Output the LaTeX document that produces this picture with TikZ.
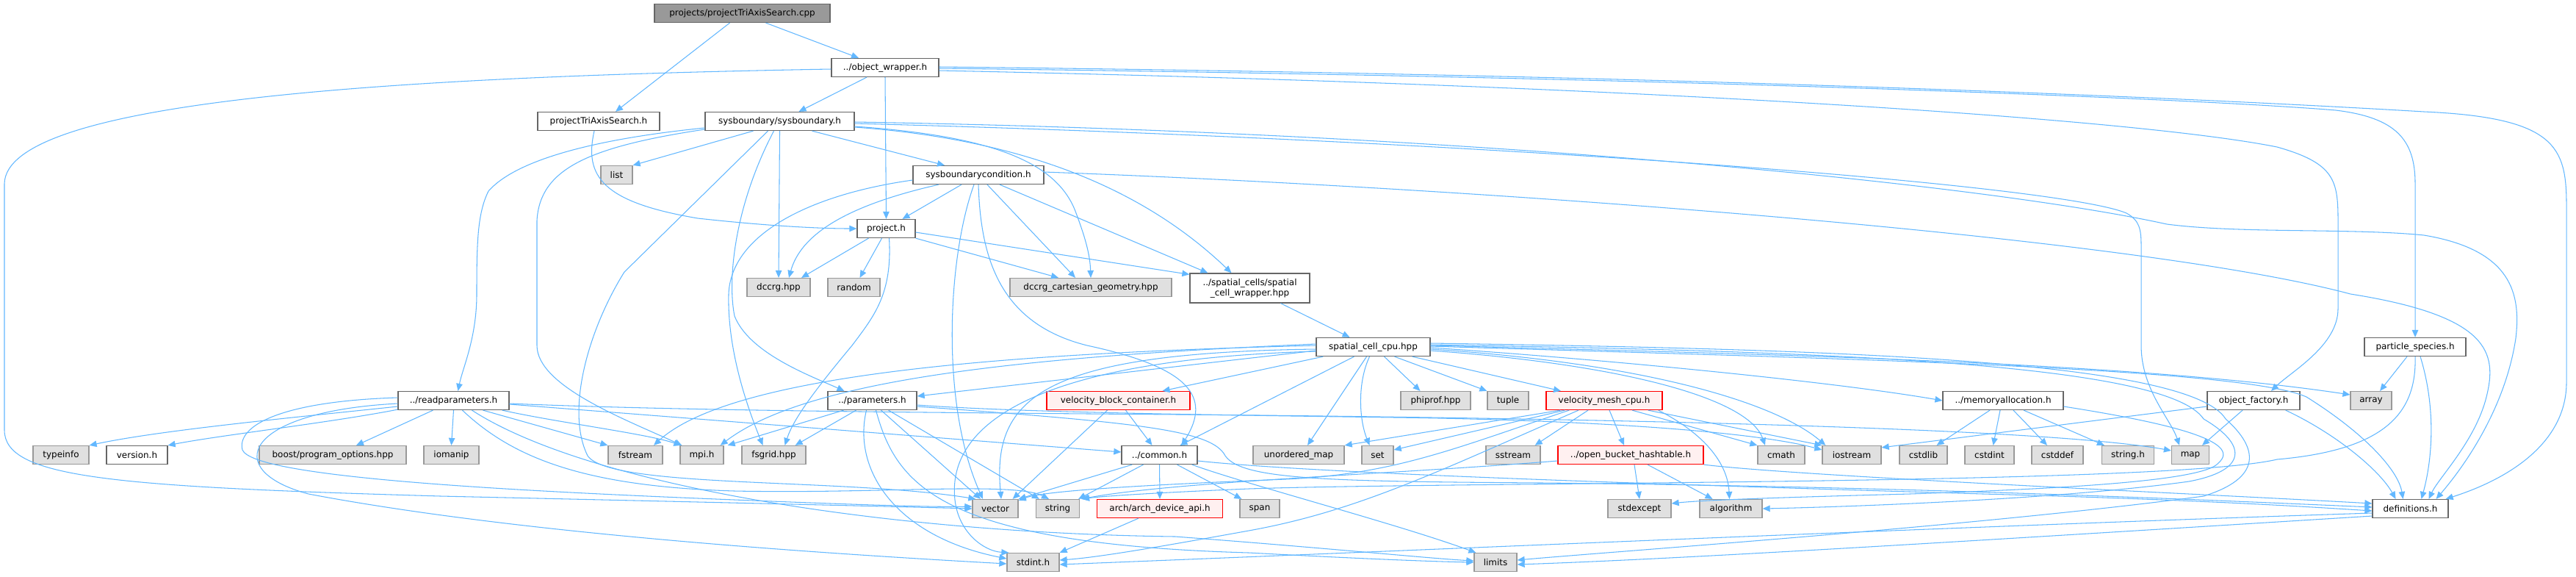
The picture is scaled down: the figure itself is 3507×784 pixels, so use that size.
\documentclass[tikz,border=0pt]{standalone}
\usepackage{fontspec}
\setmainfont{DejaVu Sans}
\usetikzlibrary{arrows.meta,calc}
\definecolor{edgec}{HTML}{63B8FF}
\definecolor{gfill}{HTML}{E0E0E0}
\definecolor{gborder}{HTML}{999999}
\definecolor{wborder}{HTML}{666666}
\definecolor{rfill}{HTML}{FFF0F0}
\definecolor{rootfill}{HTML}{999999}
\tikzset{
 base/.style={rectangle, inner sep=0pt, minimum height=2.5mm, line width=0.35pt, font=\fontsize{3.4pt}{3.9pt}\selectfont},
 gn/.style={base, draw=gborder, fill=gfill},
 wn/.style={base, draw=wborder, fill=white},
 rn/.style={base, draw=red, fill=rfill},
 rootn/.style={base, draw=wborder, fill=rootfill},
 conn/.style={draw=edgec, line width=0.3pt, -{Triangle[length=1mm,width=0.85mm]}},
}
\begin{document}
\begin{tikzpicture}[x=0.01cm,y=-0.01cm]
\fill[white] (0,0) rectangle (3507,784);
\useasboundingbox (0,0) rectangle (3507,784);
% nodes
\node[rootn, minimum width=23.9mm] (root) at (1010.5,18) {projects/projectTriAxisSearch.cpp};
\node[wn, minimum width=14.6mm] (ow) at (1205,92) {../object\_wrapper.h};
\node[wn, minimum width=16.6mm] (pts) at (815,165) {projectTriAxisSearch.h};
\node[wn, minimum width=20.3mm] (sb) at (1061.5,165) {sysboundary/sysboundary.h};
\node[gn, minimum width=4.3mm] (list) at (839.5,238) {list};
\node[wn, minimum width=17.8mm] (sbc) at (1332,238) {sysboundarycondition.h};
\node[wn, minimum width=7.9mm] (proj) at (1206.5,311) {project.h};
\node[gn, minimum width=8.6mm] (dccrg) at (1060,391) {dccrg.hpp};
\node[gn, minimum width=7.1mm] (random) at (1162.5,391) {random};
\node[gn, minimum width=22mm] (dcg) at (1485,391) {dccrg\_cartesian\_geometry.hpp};
\node[wn, minimum width=16.3mm, minimum height=4mm, align=center] (scw) at (1701.5,392) {../spatial\_cells/spatial\\\_cell\_wrapper.hpp};
\node[wn, minimum width=15.5mm] (scc) at (1869.5,472) {spatial\_cell\_cpu.hpp};
\node[wn, minimum width=13.8mm] (ps) at (3288,472) {particle\_species.h};
\node[wn, minimum width=15.1mm] (rp) at (617.5,545) {../readparameters.h};
\node[wn, minimum width=12.1mm] (par) at (1187.5,545) {../parameters.h};
\node[rn, minimum width=19.5mm] (vbc) at (1522.5,545) {velocity\_block\_container.h};
\node[gn, minimum width=9.5mm] (phiprof) at (1954.5,545) {phiprof.hpp};
\node[gn, minimum width=5.6mm] (tuple) at (2053,545) {tuple};
\node[rn, minimum width=15.8mm] (vmc) at (2184,545) {velocity\_mesh\_cpu.h};
\node[wn, minimum width=16.4mm] (mem) at (2727,545) {../memoryallocation.h};
\node[wn, minimum width=12.6mm] (of) at (3068,545) {object\_factory.h};
\node[gn, minimum width=5.6mm] (array) at (3228,545) {array};
\node[gn, minimum width=7.6mm] (typeinfo) at (83,619) {typeinfo};
\node[wn, minimum width=8.3mm] (version) at (186.5,619) {version.h};
\node[gn, minimum width=20mm] (boost) at (453,619) {boost/program\_options.hpp};
\node[gn, minimum width=7.5mm] (iomanip) at (614.5,619) {iomanip};
\node[gn, minimum width=7.4mm] (fstream) at (865,619) {fstream};
\node[gn, minimum width=5.9mm] (mpi) at (955.5,619) {mpi.h};
\node[gn, minimum width=8.7mm] (fsgrid) at (1053.5,619) {fsgrid.hpp};
\node[wn, minimum width=10.3mm] (common) at (1578.5,619) {../common.h};
\node[gn, minimum width=12.4mm] (umap) at (1768,619) {unordered\_map};
\node[gn, minimum width=4.3mm] (set) at (1875.5,619) {set};
\node[gn, minimum width=7.4mm] (sstream) at (2060,619) {sstream};
\node[rn, minimum width=19.8mm] (obh) at (2220,619) {../open\_bucket\_hashtable.h};
\node[gn, minimum width=6.4mm] (cmath) at (2425,619) {cmath};
\node[gn, minimum width=8mm] (iostream) at (2521,619) {iostream};
\node[gn, minimum width=6.5mm] (cstdlib) at (2618.5,619) {cstdlib};
\node[gn, minimum width=6.7mm] (cstdint) at (2708.5,619) {cstdint};
\node[gn, minimum width=7mm] (cstddef) at (2801,619) {cstddef};
\node[gn, minimum width=7.1mm] (stringh) at (2897,619) {string.h};
\node[gn, minimum width=5.1mm] (map) at (2982,619) {map};
\node[gn, minimum width=6.2mm] (vector) at (1355,692) {vector};
\node[gn, minimum width=5.9mm] (string) at (1440,692) {string};
\node[rn, minimum width=17.1mm] (arch) at (1579,692) {arch/arch\_device\_api.h};
\node[gn, minimum width=5.4mm] (span) at (1715,692) {span};
\node[gn, minimum width=8.6mm] (stdexcept) at (2232,692) {stdexcept};
\node[gn, minimum width=8.5mm] (algorithm) at (2356.5,692) {algorithm};
\node[wn, minimum width=10.3mm] (defs) at (3281.5,692) {definitions.h};
\node[gn, minimum width=7.1mm] (stdint) at (1406.5,765) {stdint.h};
\node[gn, minimum width=5.8mm] (limits) at (2036,765) {limits};
% root
\draw[conn] ($(root.south)+(-17,0)$) -- ($(pts.north)+(23,0)$);
\draw[conn] ($(root.south)+(32,0)$) -- ($(ow.north)+(-36,0)$);
% object_wrapper
\draw[conn] ($(ow.west)+(0,2)$) .. controls (500,105) and (8,140) .. (6,250) -- (6,585) .. controls (6,650) and (150,662) .. (600,675) .. controls (1000,684) and (1250,690) .. (vector.west);
\draw[conn] ($(ow.south)+(-25,0)$) -- ($(sb.north)+(26,0)$);
\draw[conn] (ow.south) -- (proj.north);
\draw[conn] ($(ow.east)+(0,4)$) .. controls (2200,115) and (2900,160) .. (3100,200) .. controls (3178,222) and (3183,245) .. (3183,300) -- (3183,420) .. controls (3183,470) and (3120,505) .. ($(of.north)+(24,0)$);
\draw[conn] ($(ow.east)+(0,1)$) .. controls (2300,105) and (3000,135) .. (3180,150) .. controls (3262,160) and (3288,190) .. (3288,250) -- (ps.north);
\draw[conn] ($(ow.east)+(0,-1)$) .. controls (2400,103) and (3100,140) .. (3300,152) .. controls (3480,160) and (3494,200) .. (3494,280) -- (3494,520) .. controls (3494,600) and (3420,650) .. ($(defs.north east)+(-4,0)$);
% projectTriAxisSearch.h
\draw[conn] ($(pts.south)+(-6,0)$) .. controls (795,240) and (820,275) .. (950,297) .. controls (1050,308) and (1120,311) .. (proj.west);
% sysboundary.h
\draw[conn] ($(sb.south)+(-36,0)$) -- (list.north east);
\draw[conn] ($(sb.south)+(44,0)$) -- ($(sbc.north)+(-46,0)$);
\draw[conn] (sb.south) -- (dccrg.north);
\draw[conn] ($(sb.east)+(0,7)$) .. controls (1350,185) and (1440,220) .. (1465,290) .. controls (1480,330) and (1484,350) .. (dcg.north);
\draw[conn] ($(sb.east)+(0,8)$) .. controls (1400,190) and (1560,260) .. ($(scw.north)+(-25,0)$);
\draw[conn] ($(sb.east)+(0,3)$) .. controls (2000,190) and (2800,250) .. (2895,290) .. controls (2913,300) and (2915,312) .. (2915,335) -- (2915,470) .. controls (2915,530) and (2955,570) .. ($(map.north)+(-15,0)$);
\draw[conn] ($(sb.east)+(0,1)$) .. controls (2000,180) and (2700,250) .. (2950,305) .. controls (3050,318) and (3200,310) .. (3300,320) .. controls (3420,340) and (3432,400) .. (3425,460) .. controls (3410,560) and (3350,640) .. ($(defs.north)+(35,0)$);
\draw[conn] ($(sb.west)+(0,9)$) .. controls (800,190) and (700,220) .. (665,260) .. controls (650,290) and (649,330) .. (649,400) .. controls (649,460) and (630,500) .. ($(rp.north)+(6,0)$);
\draw[conn] ($(sb.west)+(0,11)$) .. controls (800,200) and (735,230) .. (731,300) -- (731,470) .. controls (731,525) and (850,570) .. ($(mpi.north west)+(3,0)$);
\draw[conn] ($(sb.south)+(-8,0)$) .. controls (1000,280) and (990,380) .. (1000,430) .. controls (1020,480) and (1100,510) .. ($(par.north)+(-38,0)$);
\draw[conn] ($(sb.south)+(-16,0)$) -- (850,370) .. controls (800,450) and (770,560) .. (800,620) .. controls (830,665) and (1150,650) .. ($(vector.north west)+(5,0)$);
% sysboundarycondition.h
\draw[conn] ($(sbc.west)+(0,7)$) .. controls (1100,265) and (995,320) .. (992,400) .. controls (990,480) and (1020,560) .. ($(fsgrid.north)+(-15,0)$);
\draw[conn] ($(sbc.south)+(-54,0)$) .. controls (1150,280) and (1090,320) .. ($(dccrg.north)+(14,0)$);
\draw[conn] ($(sbc.south)+(-23,0)$) -- ($(proj.north)+(22,0)$);
\draw[conn] ($(sbc.south)+(-6,0)$) .. controls (1290,350) and (1280,550) .. ($(vector.north)+(-17,0)$);
\draw[conn] (sbc.south) .. controls (1335,350) and (1360,440) .. (1480,470) .. controls (1620,500) and (1650,540) .. ($(common.north)+(30,0)$);
\draw[conn] ($(sbc.south)+(12,0)$) -- ($(dcg.north)+(-21,0)$);
\draw[conn] ($(sbc.south)+(29,0)$) -- ($(scw.north west)+(25,0)$);
\draw[conn] ($(sbc.east)+(0,-4)$) .. controls (2000,255) and (2900,320) .. (3200,400) .. controls (3390,430) and (3400,480) .. (3385,540) .. controls (3370,600) and (3320,650) .. ($(defs.north)+(25,0)$);
% project.h
\draw[conn] ($(proj.south)+(-24,0)$) -- ($(dccrg.north)+(31,0)$);
\draw[conn] ($(proj.south)+(-6,0)$) -- ($(random.north)+(8,0)$);
\draw[conn] (proj.south east) -- ($(dcg.north)+(-44,0)$);
\draw[conn] ($(proj.east)+(0,5)$) -- ($(scw.north west)+(0,2)$);
\draw[conn] ($(proj.south)+(4,0)$) .. controls (1215,400) and (1190,430) .. (1160,470) .. controls (1110,530) and (1080,570) .. ($(fsgrid.north)+(15,0)$);
% spatial_cell_wrapper
\draw[conn] ($(scw.south)+(42,0)$) -- ($(scc.north)+(-32,0)$);
% spatial_cell_cpu.hpp
\draw[conn] ($(scc.west)+(0,5)$) -- ($(par.east)+(0,-6)$);
\draw[conn] ($(scc.south west)+(10,0)$) -- ($(vbc.north)+(60,0)$);
\draw[conn] ($(scc.south)+(-26,0)$) -- ($(common.north)+(28,0)$);
\draw[conn] ($(scc.west)+(0,-2)$) .. controls (1400,480) and (1000,505) .. ($(fstream.north)+(25,0)$);
\draw[conn] ($(scc.west)+(0,-4)$) .. controls (1400,485) and (1100,515) .. ($(mpi.north east)+(-5,0)$);
\draw[conn] ($(scc.west)+(0,3)$) .. controls (1420,480) and (1350,540) .. ($(vector.north)+(8,0)$);
\draw[conn] ($(scc.west)+(0,6)$) .. controls (1380,490) and (1290,590) .. (1300,680) .. controls (1305,725) and (1340,750) .. ($(stdint.north west)+(3,0)$);
\draw[conn] ($(scc.south)+(-9,0)$) -- ($(umap.north)+(12,0)$);
\draw[conn] ($(scc.south)+(-5,0)$) .. controls (1848,520) and (1850,570) .. ($(set.north)+(-11,0)$);
\draw[conn] ($(scc.south)+(15,0)$) -- ($(phiprof.north)+(-21,0)$);
\draw[conn] ($(scc.south)+(29,0)$) -- (tuple.north west);
\draw[conn] ($(scc.south east)+(-25,0)$) -- ($(vmc.north)+(-59,0)$);
\draw[conn] ($(scc.east)+(0,5)$) .. controls (2200,495) and (2380,540) .. ($(cmath.north)+(-22,0)$);
\draw[conn] ($(scc.east)+(0,3)$) .. controls (2250,495) and (2420,550) .. ($(iostream.north west)+(5,0)$);
\draw[conn] ($(scc.east)+(0,1)$) .. controls (2200,490) and (2500,520) .. (mem.west);
\draw[conn] ($(scc.east)+(0,-2)$) .. controls (2400,482) and (2900,492) .. ($(array.west)+(0,-8)$);
\draw[conn] ($(scc.east)+(0,-1)$) .. controls (2500,488) and (3050,500) .. (3140,540) .. controls (3220,590) and (3265,640) .. ($(defs.north)+(-10,0)$);
\draw[conn] ($(scc.east)+(0,-3)$) .. controls (2500,478) and (2950,495) .. (3000,570) .. controls (3060,605) and (3060,640) .. (2980,655) .. controls (2800,680) and (2500,690) .. (algorithm.east);
\draw[conn] ($(scc.east)+(0,-5)$) .. controls (2500,475) and (2980,490) .. (3030,570) .. controls (3075,610) and (3080,650) .. (3000,675) .. controls (2700,715) and (2200,750) .. ($(limits.east)+(0,-3)$);
% readparameters.h
\draw[conn] ($(rp.west)+(0,8)$) .. controls (400,568) and (220,585) .. (typeinfo.north east);
\draw[conn] ($(rp.south west)+(0,-1)$) .. controls (450,575) and (300,592) .. (version.north east);
\draw[conn] ($(rp.south)+(-28,0)$) -- ($(boost.north)+(32,0)$);
\draw[conn] (rp.south) -- (iomanip.north);
\draw[conn] ($(rp.south)+(40,0)$) -- (fstream.north west);
\draw[conn] ($(rp.south east)+(-10,0)$) .. controls (760,575) and (880,590) .. ($(mpi.north west)+(2,0)$);
\draw[conn] ($(rp.west)+(0,-4)$) .. controls (380,546) and (322,580) .. (330,612) .. controls (345,650) and (700,668) .. (1000,680) .. controls (1200,688) and (1280,690) .. ($(vector.west)+(0,-3)$);
\draw[conn] ($(rp.west)+(0,4)$) .. controls (330,560) and (300,640) .. (420,672) .. controls (700,725) and (1100,752) .. ($(stdint.west)+(0,2)$);
\draw[conn] ($(rp.south)+(25,0)$) .. controls (800,660) and (1200,725) .. (1600,730) .. controls (1800,745) and (1950,760) .. ($(limits.west)+(0,-2)$);
\draw[conn] ($(rp.east)+(0,5)$) -- ($(common.west)+(0,-4)$);
\draw[conn] ($(rp.east)+(0,4)$) .. controls (1000,562) and (1500,562) .. (1800,566) .. controls (2300,572) and (2800,585) .. ($(map.west)+(0,-6)$);
\draw[conn] ($(rp.south)+(12,0)$) .. controls (700,625) and (800,662) .. (1000,668) .. controls (1200,672) and (1380,655) .. ($(string.north)+(-12,0)$);
% parameters.h
\draw[conn] ($(par.south)+(-39,0)$) -- ($(mpi.north east)+(5,0)$);
\draw[conn] ($(par.south)+(-22,0)$) -- ($(fsgrid.north east)+(-15,0)$);
\draw[conn] ($(par.south)+(12,0)$) -- ($(vector.north)+(-20,0)$);
\draw[conn] ($(par.south)+(22,0)$) -- ($(string.north west)+(5,0)$);
\draw[conn] ($(par.south)+(-8,0)$) .. controls (1160,640) and (1220,730) .. ($(stdint.west)+(0,-5)$);
\draw[conn] ($(par.south)+(5,0)$) .. controls (1220,660) and (1280,740) .. (1700,752) .. controls (1850,760) and (1950,764) .. (limits.west);
\draw[conn] ($(par.east)+(0,6)$) .. controls (1400,562) and (1700,565) .. (1900,568) .. controls (2200,572) and (2400,590) .. ($(iostream.west)+(0,-7)$);
\draw[conn] ($(par.east)+(0,8)$) .. controls (1550,575) and (1650,585) .. (1668,620) .. controls (1690,652) and (1800,655) .. (2100,657) .. controls (2600,662) and (3000,680) .. ($(defs.west)+(0,-2)$);
% velocity_block_container.h
\draw[conn] ($(vbc.south)+(-15,0)$) -- ($(vector.north east)+(-8,0)$);
\draw[conn] ($(vbc.south)+(10,0)$) -- ($(common.north)+(-10,0)$);
% common.h
\draw[conn] ($(common.south west)+(15,0)$) -- (vector.north east);
\draw[conn] ($(common.south)+(-22,0)$) -- ($(string.north east)+(-2,0)$);
\draw[conn] (common.south) -- (arch.north);
\draw[conn] ($(common.south)+(24,0)$) -- ($(span.north west)+(3,0)$);
\draw[conn] ($(common.south east)+(-8,0)$) .. controls (1700,660) and (1900,712) .. ($(limits.north west)+(3,0)$);
\draw[conn] ($(common.east)+(0,8)$) .. controls (1800,645) and (2300,660) .. (2700,672) .. controls (3000,680) and (3150,690) .. ($(defs.west)+(0,3)$);
% arch
\draw[conn] ($(arch.south)+(-29,0)$) -- (stdint.north east);
% velocity_mesh_cpu.h
\draw[conn] ($(vmc.south west)+(20,0)$) -- (umap.north east);
\draw[conn] ($(vmc.south west)+(26,0)$) -- ($(set.east)+(0,-7)$);
\draw[conn] ($(vmc.south west)+(32,0)$) .. controls (1980,610) and (1900,645) .. (1750,652) .. controls (1550,660) and (1420,668) .. ($(vector.north east)+(0,2)$);
\draw[conn] ($(vmc.south)+(-35,0)$) .. controls (1960,640) and (1850,695) .. (1700,722) .. controls (1600,740) and (1500,758) .. ($(stdint.east)+(0,-3)$);
\draw[conn] ($(vmc.south)+(-22,0)$) -- ($(sstream.north east)+(-8,0)$);
\draw[conn] ($(vmc.south)+(7,0)$) -- ($(obh.north)+(-9,0)$);
\draw[conn] ($(vmc.south)+(38,0)$) -- (cmath.north west);
\draw[conn] ($(vmc.south east)+(-20,0)$) -- (iostream.north west);
\draw[conn] ($(vmc.south east)+(-6,0)$) .. controls (2320,590) and (2352,630) .. ($(algorithm.north)+(-2,0)$);
% open_bucket_hashtable.h
\draw[conn] ($(obh.south)+(5,0)$) -- (stdexcept.north);
\draw[conn] ($(obh.south)+(23,0)$) -- ($(algorithm.north)+(-25,0)$);
\draw[conn] ($(obh.west)+(0,8)$) .. controls (1900,645) and (1600,655) .. ($(string.north east)+(2,0)$);
\draw[conn] (obh.south east) .. controls (2450,648) and (3000,672) .. ($(defs.west)+(0,-7)$);
% memoryallocation.h
\draw[conn] ($(mem.south)+(-18,0)$) -- ($(cstdlib.north)+(18,0)$);
\draw[conn] ($(mem.south)+(-4,0)$) -- ($(cstdint.north)+(5,0)$);
\draw[conn] ($(mem.south)+(14,0)$) -- ($(cstddef.north)+(-14,0)$);
\draw[conn] ($(mem.south)+(28,0)$) -- ($(stringh.north west)+(4,0)$);
\draw[conn] ($(mem.east)+(0,8)$) .. controls (2950,575) and (3055,600) .. (3020,630) .. controls (3000,655) and (2800,665) .. (2600,672) .. controls (2450,676) and (2320,680) .. ($(stdexcept.east)+(0,-7)$);
% object_factory.h
\draw[conn] ($(of.west)+(0,8)$) -- ($(iostream.north east)+(0,3)$);
\draw[conn] ($(of.south)+(-15,0)$) -- ($(map.north)+(16,0)$);
\draw[conn] ($(of.south east)+(-20,0)$) .. controls (3180,590) and (3240,640) .. ($(defs.north)+(-20,0)$);
% particle_species.h
\draw[conn] ($(ps.south)+(-11,0)$) -- ($(array.north)+(12,0)$);
\draw[conn] (ps.south) .. controls (3290,560) and (3250,612) .. (3100,625) .. controls (2950,660) and (2000,655) .. (1700,665) .. controls (1580,670) and (1500,675) .. ($(string.north east)+(3,0)$);
\draw[conn] ($(ps.south)+(7,0)$) .. controls (3318,560) and (3310,630) .. ($(defs.north)+(15,0)$);
% definitions.h
\draw[conn] ($(defs.west)+(0,6)$) .. controls (2700,715) and (1900,750) .. ($(stdint.east)+(0,3)$);
\draw[conn] ($(defs.west)+(0,10)$) .. controls (2700,735) and (2300,760) .. ($(limits.east)+(0,3)$);
\end{tikzpicture}
\end{document}
